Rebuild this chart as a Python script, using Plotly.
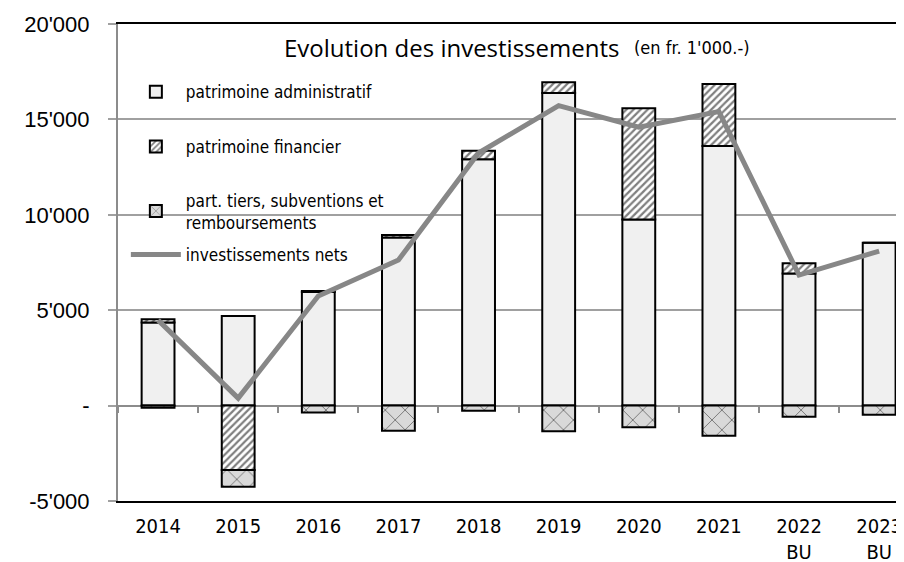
import plotly.graph_objects as go

years = ["2014", "2015", "2016", "2017", "2018", "2019", "2020", "2021", "2022<br>BU", "2023<br>BU"]
admin = [4350, 4690, 5950, 8810, 12910, 16390, 9750, 13600, 6930, 8540]
financier = [170, -3380, 50, 130, 450, 560, 5840, 3260, 530, 0]
tiers = [-110, -870, -360, -1320, -270, -1340, -1130, -1580, -590, -480]
nets = [4480, 390, 5740, 7630, 13240, 15720, 14590, 15410, 6840, 8100]

y_ticks = [-5000, 0, 5000, 10000, 15000, 20000]
y_labels = ["-5'000", "-", "5'000", "10'000", "15'000", "20'000"]

NARROW = "DejaVu Sans Condensed, Liberation Sans Narrow, Roboto, sans-serif"
REG = "Liberation Sans, Arial, sans-serif"
BW = 0.41
XR = [-0.5, 9.31]

fig = go.Figure()
fig.add_trace(go.Bar(x=years, y=admin, name="patrimoine administratif", width=BW,
                     marker=dict(color="#f0f0f0", line=dict(color="black", width=2)),
                     legend="legend"))
fig.add_trace(go.Bar(x=years, y=financier, name="patrimoine financier", width=BW,
                     marker=dict(color="white", line=dict(color="black", width=2),
                                 pattern=dict(shape="/", fgcolor="black", bgcolor="white",
                                              size=5, solidity=0.45, fillmode="overlay")),
                     legend="legend2"))
fig.add_trace(go.Bar(x=years, y=tiers, name="part. tiers, subventions et<br>remboursements", width=BW,
                     marker=dict(color="#d9d9d9", line=dict(color="black", width=2),
                                 pattern=dict(shape="x", fgcolor="black", bgcolor="#d9d9d9",
                                              size=14, solidity=0.12, fillmode="overlay")),
                     legend="legend3"))
fig.add_trace(go.Scatter(x=years, y=nets, name="investissements nets", mode="lines",
                         line=dict(color="#878787", width=5), legend="legend4"))
# axis crossing at zero (tick marks between categories)
fig.add_trace(go.Scatter(x=years, y=[0] * len(years), xaxis="x2", yaxis="y",
                         showlegend=False, hoverinfo="skip", mode="markers",
                         marker=dict(opacity=0)))

leg_common = dict(x=0.01, xanchor="left", bgcolor="rgba(0,0,0,0)", itemwidth=50,
                  font=dict(family=NARROW, size=17, color="black"))

fig.update_layout(
    width=896, height=554,
    margin=dict(l=110, r=0, t=16, b=61, autoexpand=False),
    plot_bgcolor="white", paper_bgcolor="white",
    barmode="relative",
    showlegend=True,
    legend=dict(y=0.857, yanchor="middle", **leg_common),
    legend2=dict(y=0.742, yanchor="middle", **leg_common),
    legend3=dict(y=0.668, yanchor="top", **leg_common),
    legend4=dict(y=0.516, yanchor="middle", **leg_common),
    xaxis=dict(type="category", range=XR, showgrid=False,
               showline=True, linecolor="black", linewidth=2, mirror=True,
               ticks="", tickfont=dict(family=NARROW, size=20, color="black"),
               ticklabelstandoff=6, zeroline=False),
    xaxis2=dict(type="category", overlaying="x", range=XR, anchor="free", position=0.2,
                side="bottom", showline=False, showgrid=False, showticklabels=False,
                ticks="outside", tickson="boundaries", ticklen=6, tickwidth=2,
                tickcolor="#8c8c8c", zeroline=False),
    yaxis=dict(range=[-5000, 20000], tickvals=y_ticks, ticktext=y_labels,
               showgrid=True, gridcolor="#a0a0a0", gridwidth=2,
               zeroline=True, zerolinecolor="#8c8c8c", zerolinewidth=2,
               showline=True, linecolor="#8c8c8c", linewidth=2,
               ticks="outside", ticklen=8, tickwidth=2, tickcolor="#a0a0a0",
               ticklabelstandoff=14,
               tickfont=dict(family=REG, size=22, color="black")),
    annotations=[
        dict(text="Evolution des investissements", xref="paper", yref="paper",
             x=0.209, y=0.95, xanchor="left", yanchor="middle", showarrow=False,
             font=dict(family="Open Sans, Verdana, sans-serif", size=24, color="black")),
        dict(text="(en fr. 1'000.-)", xref="paper", yref="paper",
             x=0.654, y=0.95, xanchor="left", yanchor="middle", showarrow=False,
             font=dict(family=NARROW, size=18, color="black")),
    ],
)

# avoid a vertical scrollbar eating into the page width
fig.write_html("out.html",
               post_script="document.body.style.overflow='hidden';"
                           "document.documentElement.style.overflow='hidden';")
